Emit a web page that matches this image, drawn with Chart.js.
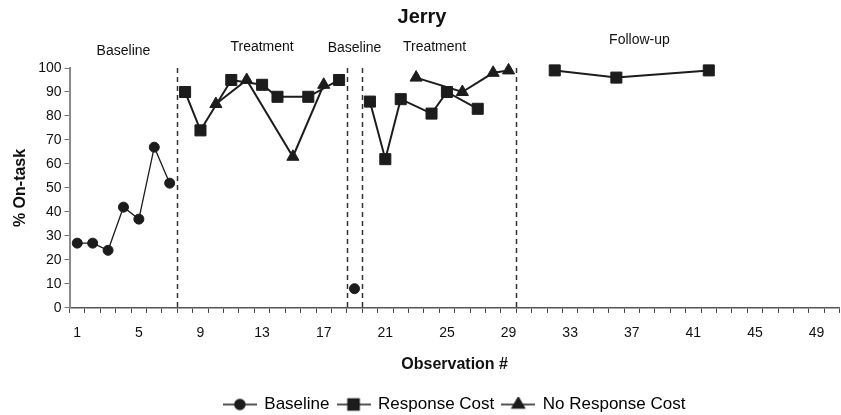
<!DOCTYPE html>
<html>
<head>
<meta charset="utf-8">
<title>Jerry</title>
<script src="https://cdn.jsdelivr.net/npm/chart.js@4.4.1/dist/chart.umd.min.js"></script>
<style>
  html, body { margin: 0; padding: 0; background: #fff; overflow: hidden; }
</style>
</head>
<body>
<canvas id="chart" width="844" height="415"></canvas>
<script>
// ---- data ----
const OBS_COUNT = 50;
const X_TICK_LABELS = [1, 5, 9, 13, 17, 21, 25, 29, 33, 37, 41, 45, 49];
const Y_TICKS = [0, 10, 20, 30, 40, 50, 60, 70, 80, 90, 100];

// phase change lines sit between observations
const PHASE_CHANGES = [7.5, 18.5, 19.5, 29.5];
const PHASE_NAMES = ["Baseline", "Treatment", "Baseline", "Treatment", "Follow-up"];
const PHASE_NAME_AT = [4, 13, 19, 24.2, 37.5];

const BASELINE_OBS = [1, 2, 3, 4, 5, 6, 7, 19];
const BASELINE_VALS = [27, 27, 24, 42, 37, 67, 52, 8];

const RC_OBS = [8, 9, 11, 13, 14, 16, 18, 20, 21, 22, 24, 25, 27, 32, 36, 42];
const RC_VALS = [90, 74, 95, 93, 88, 88, 95, 86, 62, 87, 81, 90, 83, 99, 96, 99];

const NRC_OBS = [10, 12, 15, 17, 23, 26, 28, 29];
const NRC_VALS = [85, 95, 63, 93, 96, 90, 98, 99];

const INK = "#1c1c1c";

// points in the same phase are joined, a phase change breaks the line
function phasePoints(obs, vals) {
  const pts = [];
  obs.forEach((x, i) => {
    if (i > 0 && PHASE_CHANGES.some(b => b > obs[i - 1] && b < x)) {
      pts.push({ x: (obs[i - 1] + x) / 2, y: null });
    }
    pts.push({ x: x, y: vals[i] });
  });
  return pts;
}

// little line-through-marker swatches for the legend
function swatch(style, r) {
  const c = document.createElement("canvas");
  c.width = 34; c.height = 16;
  const g = c.getContext("2d");
  g.strokeStyle = INK; g.fillStyle = INK; g.lineWidth = 1.6;
  g.beginPath(); g.moveTo(0, 8); g.lineTo(34, 8); g.stroke();
  Chart.helpers.drawPoint(g, { pointStyle: style, radius: r, borderWidth: 1 }, 17, 8);
  g.fill();
  return c;
}

// dashed phase lines and phase names
const phasePlugin = {
  id: "phases",
  beforeDatasetsDraw(chart) {
    const { ctx, scales: { x, y } } = chart;
    ctx.save();
    ctx.strokeStyle = "#333";
    ctx.lineWidth = 1.5;
    ctx.setLineDash([5, 4]);
    PHASE_CHANGES.forEach(b => {
      const px = Math.round(x.getPixelForValue(b)) + 0.5;
      ctx.beginPath();
      ctx.moveTo(px, y.getPixelForValue(100));
      ctx.lineTo(px, y.getPixelForValue(0));
      ctx.stroke();
    });
    ctx.restore();
  },
  afterDraw(chart) {
    const { ctx, chartArea, scales: { x } } = chart;
    const lift = [16.6, 20.6, 20.3, 21.3, 28.3];
    ctx.save();
    ctx.font = "14px 'Liberation Sans', Arial, sans-serif";
    ctx.fillStyle = "#111";
    ctx.textAlign = "center";
    ctx.textBaseline = "middle";
    PHASE_NAMES.forEach((name, i) => {
      ctx.fillText(name, x.getPixelForValue(PHASE_NAME_AT[i]), chartArea.top - lift[i]);
    });
    ctx.restore();
  }
};

const legendMarks = [swatch("circle", 5), swatch("rect", 7.8), swatch("triangle", 7)];

new Chart(document.getElementById("chart"), {
  type: "line",
  data: {
    datasets: [
      {
        label: "Baseline",
        data: phasePoints(BASELINE_OBS, BASELINE_VALS),
        borderColor: INK, backgroundColor: INK, borderWidth: 1.3,
        pointStyle: "circle", pointRadius: 5, pointBorderWidth: 1, clip: false
      },
      {
        label: "Response Cost",
        data: phasePoints(RC_OBS, RC_VALS),
        borderColor: INK, backgroundColor: INK, borderWidth: 2,
        pointStyle: "rect", pointRadius: 7.8, pointBorderWidth: 1, clip: false
      },
      {
        label: "No Response Cost",
        data: phasePoints(NRC_OBS, NRC_VALS),
        borderColor: INK, backgroundColor: INK, borderWidth: 2,
        pointStyle: "triangle", pointRadius: 7, pointBorderWidth: 1, clip: false
      }
    ]
  },
  options: {
    responsive: false,
    animation: false,
    spanGaps: false,
    layout: { autoPadding: false, padding: { left: 0, right: 0, top: 0, bottom: -8 } },
    font: { family: "'Liberation Sans', Arial, sans-serif" },
    scales: {
      x: {
        type: "linear",
        min: 0.5,
        max: OBS_COUNT + 0.5,
        afterBuildTicks(scale) {
          const t = [];
          for (let n = 1; n <= OBS_COUNT; n++) t.push({ value: n });
          scale.ticks = t;
        },
        grid: { offset: true, drawOnChartArea: false, drawTicks: true, tickLength: 5, color: "#444", lineWidth: 1 },
        border: { color: "#555", width: 1.5 },
        ticks: {
          autoSkip: false, maxRotation: 0, padding: 12,
          color: "#111", font: { size: 14 },
          callback: v => (X_TICK_LABELS.includes(v) ? String(v) : "")
        },
        title: {
          display: true, text: "Observation #", color: "#111",
          font: { size: 16, weight: "bold" }, padding: { top: 1.4, bottom: 13.7 }
        }
      },
      y: {
        min: 0, max: 100,
        afterBuildTicks(scale) { scale.ticks = Y_TICKS.map(v => ({ value: v })); },
        grid: { drawOnChartArea: false, tickLength: 5, color: "#777" },
        border: { color: "#8a8a8a", width: 2 },
        ticks: { padding: 3, color: "#111", font: { size: 14 } },
        title: {
          display: true, text: "% On-task", color: "#111",
          font: { size: 16, weight: "bold" }, padding: { top: 11, bottom: 5 }
        }
      }
    },
    plugins: {
      title: {
        display: true, text: "Jerry", color: "#111",
        font: { size: 20, weight: "bold" }, padding: { top: 5, bottom: 39 }
      },
      legend: {
        position: "bottom",
        fullSize: false,
        labels: {
          color: "#111",
          font: { size: 17 },
          usePointStyle: true,
          pointStyleWidth: 32,
          padding: 8,
          generateLabels: chart => chart.data.datasets.map((ds, i) => ({
            text: ds.label, datasetIndex: i, pointStyle: legendMarks[i],
            fillStyle: INK, strokeStyle: INK, lineWidth: 0, hidden: false
          }))
        }
      },
      tooltip: { enabled: false }
    }
  },
  plugins: [phasePlugin]
});
</script>
</body>
</html>
